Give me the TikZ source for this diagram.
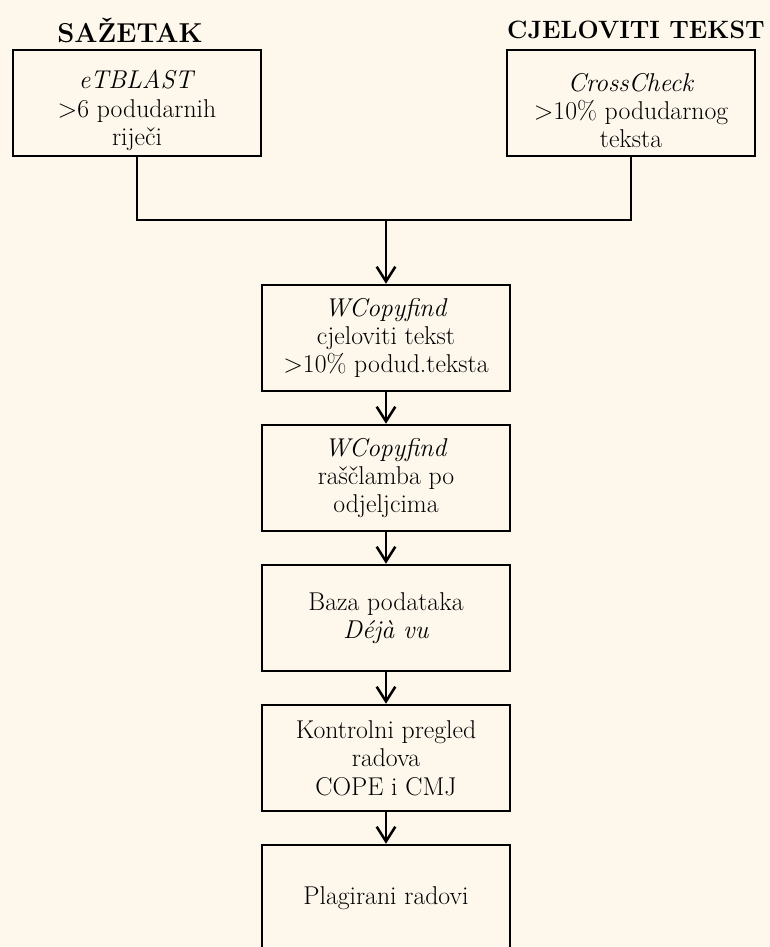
\documentclass[tikz,border=0pt]{standalone}
\usepackage{fontspec}
\usetikzlibrary{arrows.meta}
\definecolor{bg}{RGB}{253,247,236}
\newcommand{\topgap}{\rule{0pt}{25pt}}
\begin{document}
\begin{tikzpicture}[x=0.75pt,y=-0.75pt,
  box/.style={draw, line width=1.9pt, minimum width=186pt, minimum height=79.5pt, align=center, inner sep=0pt, font=\fontsize{19.3}{21.3}\selectfont},
  titlelbl/.style={font=\bfseries\fontsize{20.5}{24}\selectfont, inner sep=0pt},
  conn/.style={line width=1.9pt},
  arr/.style={conn, -{Straight Barb[length=11pt,width=14pt,line width=1.9pt]}}]
\fill[bg] (0,0) rectangle (770,947);
\useasboundingbox (0,0) rectangle (770,947);
\clip (0,0) rectangle (770,947);
\node[titlelbl] (t1) at (130,30) {SAŽETAK};
\node[titlelbl, font=\bfseries\fontsize{18.8}{24}\selectfont] (t2) at (636,30) {CJELOVITI TEKST};
\node[box] (a) at (137,103) {\topgap\textit{eTBLAST}\\>6 podudarnih\\riječi};
\node[box] (b) at (631,103) {\topgap\textit{CrossCheck}\\>10\% podudarnog\\teksta};
\node[box] (c) at (386,338) {\textit{WCopyfind}\\cjeloviti tekst\\>10\% podud.teksta};
\node[box] (d) at (386,478) {\textit{WCopyfind}\\raščlamba po\\odjeljcima};
\node[box] (e) at (386,618) {Baza podataka\\\textit{Déjà vu}};
\node[box] (f) at (386,758) {Kontrolni pregled\\radova\\COPE i CMJ};
\node[box] (g) at (386,898) {Plagirani radovi};
\coordinate (j) at (386,220);
\draw[conn] (a.south) |- (j) -| (b.south);
\draw[arr] (j) -- (c.north);
\draw[arr] (c.south) -- (d.north);
\draw[arr] (d.south) -- (e.north);
\draw[arr] (e.south) -- (f.north);
\draw[arr] (f.south) -- (g.north);
\end{tikzpicture}
\end{document}
